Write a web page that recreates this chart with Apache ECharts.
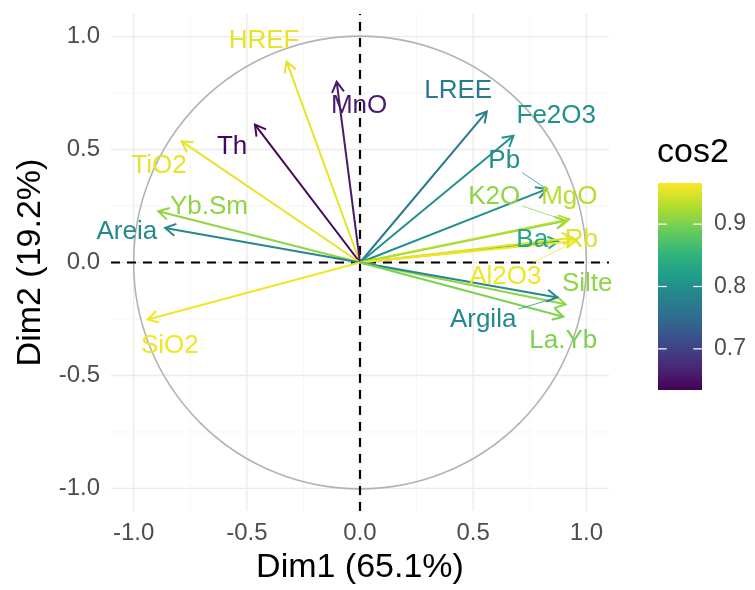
<!DOCTYPE html>
<html>
<head>
<meta charset="utf-8">
<script src="https://cdn.jsdelivr.net/npm/echarts@6/dist/echarts.min.js"></script>
<style>html,body{margin:0;padding:0;background:#fff}#c{width:755px;height:590px}</style>
</head>
<body>
<div id="c"></div>
<script>
// ---- data ----
const variables = ['HREF','MnO','Th','TiO2','Yb.Sm','Areia','SiO2','LREE','Fe2O3','Pb','K2O','MgO','Ba','Rb','Al2O3','Silte','Argila','La.Yb'];
const dim1 = [-0.324,-0.103,-0.464,-0.788,-0.891,-0.861,-0.938,0.560,0.678,0.825,0.910,0.925,0.876,0.940,0.955,0.908,0.872,0.898];
const dim2 = [0.889,0.800,0.610,0.536,0.227,0.153,-0.252,0.668,0.561,0.325,0.185,0.192,0.093,0.110,0.095,-0.185,-0.155,-0.240];
const cos2 = [0.955,0.66,0.64,0.955,0.91,0.79,0.96,0.77,0.80,0.80,0.91,0.93,0.83,0.95,0.96,0.91,0.79,0.90];
// repelled label positions (data units)
const labelX = [-0.424,-0.004,-0.565,-0.888,-0.667,-1.030,-0.840,0.434,0.867,0.637,0.593,0.925,0.761,0.978,0.642,1.004,0.544,0.898];
const labelY = [0.980,0.694,0.512,0.428,0.247,0.137,-0.370,0.761,0.650,0.451,0.292,0.292,0.102,0.102,-0.062,-0.093,-0.252,-0.345];
const labelSegment = [0,0,0,0,0,0,0,0,0,1,1,0,0,0,1,0,1,0];
const axisTicks = [-1.0,-0.5,0.0,0.5,1.0];
const minorBreaks = [-0.75,-0.25,0.25,0.75];
const cos2Ticks = [0.7,0.8,0.9];
const cos2Min = 0.634, cos2Max = 0.966;
const xTitle = 'Dim1 (65.1%)', yTitle = 'Dim2 (19.2%)', legendTitle = 'cos2';

const viridis = ['#440154','#482878','#3E4989','#31688E','#26828E','#1F9E89','#35B779','#6DCD59','#B4DE2C','#FDE725'];
const FONT = 'Liberation Sans, Arial, sans-serif';
const LIM = 1.1;

const measureCtx = document.createElement('canvas').getContext('2d');
measureCtx.font = '26px ' + FONT;

const chart = echarts.init(document.getElementById('c'), null, {renderer:'canvas'});

const gridData = axisTicks.map(v => [v, 1]).concat(minorBreaks.map(v => [v, 0]));
const arrowData = variables.map((n, i) => [dim1[i], dim2[i], cos2[i]]);
const labelData = variables.map((n, i) => [labelX[i], labelY[i], cos2[i], dim1[i], dim2[i], labelSegment[i], i]);

const option = {
  animation: false,
  backgroundColor: '#fff',
  grid: [
    {left: 111, top: 14, width: 498, height: 498},
    {left: 658, top: 183, width: 44, height: 207}
  ],
  xAxis: [
    {gridIndex: 0, type: 'value', min: -LIM, max: LIM,
     axisLine: {show: false}, axisTick: {show: false}, splitLine: {show: false},
     axisLabel: {customValues: axisTicks, formatter: v => v.toFixed(1), fontSize: 24, color: '#4d4d4d', margin: 10, fontFamily: FONT},
     name: xTitle, nameLocation: 'middle', nameGap: 40,
     nameTextStyle: {fontSize: 34, color: '#000', fontFamily: FONT}},
    {gridIndex: 1, type: 'value', min: 0, max: 1, show: false}
  ],
  yAxis: [
    {gridIndex: 0, type: 'value', min: -LIM, max: LIM,
     axisLine: {show: false}, axisTick: {show: false}, splitLine: {show: false},
     axisLabel: {customValues: axisTicks, formatter: v => v.toFixed(1), fontSize: 24, color: '#4d4d4d', margin: 11, fontFamily: FONT},
     name: yTitle, nameLocation: 'middle', nameGap: 62,
     nameTextStyle: {fontSize: 34, color: '#000', fontFamily: FONT}},
    {gridIndex: 1, type: 'value', min: cos2Min, max: cos2Max, position: 'right',
     axisLine: {show: false}, axisTick: {show: false}, splitLine: {show: false},
     axisLabel: {customValues: cos2Ticks, formatter: v => v.toFixed(1), fontSize: 23, color: '#4d4d4d', margin: 12, fontFamily: FONT}}
  ],
  visualMap: {
    type: 'continuous', show: false, min: cos2Min, max: cos2Max, dimension: 2,
    seriesIndex: [4, 5], inRange: {color: viridis}
  },
  graphic: [
    {type: 'text', left: 657, top: 136, style: {text: legendTitle, font: '34px ' + FONT, fill: '#000'}}
  ],
  series: [
    { // grid lines
      type: 'custom', xAxisIndex: 0, yAxisIndex: 0, silent: true, data: gridData,
      renderItem: function (params, api) {
        const v = api.value(0), major = api.value(1) === 1;
        const a = api.coord([v, -LIM]), b = api.coord([v, LIM]);
        const c = api.coord([-LIM, v]), d = api.coord([LIM, v]);
        const st = {stroke: major ? '#ebebeb' : '#f4f4f4', lineWidth: major ? 1.4 : 0.8};
        return {type: 'group', children: [
          {type: 'line', shape: {x1: a[0], y1: a[1], x2: b[0], y2: b[1]}, style: st},
          {type: 'line', shape: {x1: c[0], y1: c[1], x2: d[0], y2: d[1]}, style: st}
        ]};
      }
    },
    { // correlation circle
      type: 'custom', xAxisIndex: 0, yAxisIndex: 0, silent: true, data: [[0, 0, 1]],
      renderItem: function (params, api) {
        const c = api.coord([api.value(0), api.value(1)]);
        const r = api.coord([api.value(2), 0])[0] - c[0];
        return {type: 'circle', shape: {cx: c[0], cy: c[1], r: r}, style: {fill: null, stroke: '#b3b3b3', lineWidth: 1.6}};
      }
    },
    { // dashed zero lines
      type: 'custom', xAxisIndex: 0, yAxisIndex: 0, silent: true, data: [[0]],
      renderItem: function (params, api) {
        const v = api.value(0);
        const a = api.coord([v, -LIM]), b = api.coord([v, LIM]);
        const c = api.coord([-LIM, v]), d = api.coord([LIM, v]);
        const st = {stroke: '#000', lineWidth: 2.2, lineDash: [9, 7]};
        return {type: 'group', children: [
          {type: 'line', shape: {x1: c[0], y1: c[1], x2: d[0], y2: d[1]}, style: st},
          {type: 'line', shape: {x1: a[0], y1: a[1], x2: b[0], y2: b[1]}, style: st}
        ]};
      }
    },
    { // colour bar
      type: 'custom', xAxisIndex: 1, yAxisIndex: 1, silent: true, data: [[0]],
      renderItem: function (params, api) {
        const p0 = api.coord([0, cos2Max]), p1 = api.coord([1, cos2Min]);
        const stops = viridis.map((c, i) => ({offset: 1 - i / (viridis.length - 1), color: c}));
        stops.reverse();
        const children = [{type: 'rect', shape: {x: p0[0], y: p0[1], width: p1[0] - p0[0], height: p1[1] - p0[1]},
          style: {fill: new echarts.graphic.LinearGradient(0, 0, 0, 1, stops)}}];
        const tl = (p1[0] - p0[0]) / 5;
        cos2Ticks.forEach(t => {
          const y = api.coord([0, t])[1];
          children.push({type: 'line', shape: {x1: p0[0], y1: y, x2: p0[0] + tl, y2: y}, style: {stroke: '#fff', lineWidth: 1.2}});
          children.push({type: 'line', shape: {x1: p1[0] - tl, y1: y, x2: p1[0], y2: y}, style: {stroke: '#fff', lineWidth: 1.2}});
        });
        return {type: 'group', children: children};
      }
    },
    { // arrows
      type: 'custom', xAxisIndex: 0, yAxisIndex: 0, silent: true, data: arrowData,
      renderItem: function (params, api) {
        const o = api.coord([0, 0]);
        const p = api.coord([api.value(0), api.value(1)]);
        const color = api.visual('color');
        const ang = Math.atan2(p[1] - o[1], p[0] - o[0]);
        const L = 12, a = Math.PI / 6;
        const h1 = [p[0] - L * Math.cos(ang - a), p[1] - L * Math.sin(ang - a)];
        const h2 = [p[0] - L * Math.cos(ang + a), p[1] - L * Math.sin(ang + a)];
        const st = {stroke: color, lineWidth: 2, fill: null};
        return {type: 'group', children: [
          {type: 'line', shape: {x1: o[0], y1: o[1], x2: p[0], y2: p[1]}, style: st},
          {type: 'polyline', shape: {points: [h1, p, h2]}, style: st}
        ]};
      }
    },
    { // labels
      type: 'custom', xAxisIndex: 0, yAxisIndex: 0, silent: true, data: labelData,
      renderItem: function (params, api) {
        const c = api.coord([api.value(0), api.value(1)]);
        const color = api.visual('color');
        const name = variables[api.value(6)];
        const children = [];
        if (api.value(5) === 1) {
          const t = api.coord([api.value(3), api.value(4)]);
          const w = measureCtx.measureText(name).width;
          const hw = w / 2 + 2, hh = 14;
          const dx = t[0] - c[0], dy = t[1] - c[1];
          const k = Math.min(dx !== 0 ? hw / Math.abs(dx) : Infinity, dy !== 0 ? hh / Math.abs(dy) : Infinity);
          if (k < 1) {
            const s = [c[0] + k * dx, c[1] + k * dy];
            children.push({type: 'line', shape: {x1: s[0], y1: s[1], x2: t[0], y2: t[1]}, style: {stroke: color, lineWidth: 1, opacity: 0.75}});
          }
        }
        children.push({type: 'text', style: {text: name, x: c[0], y: c[1], fill: color, font: '26px ' + FONT, align: 'center', verticalAlign: 'middle'}});
        return {type: 'group', children: children};
      }
    }
  ]
};
chart.setOption(option);
</script>
</body>
</html>
